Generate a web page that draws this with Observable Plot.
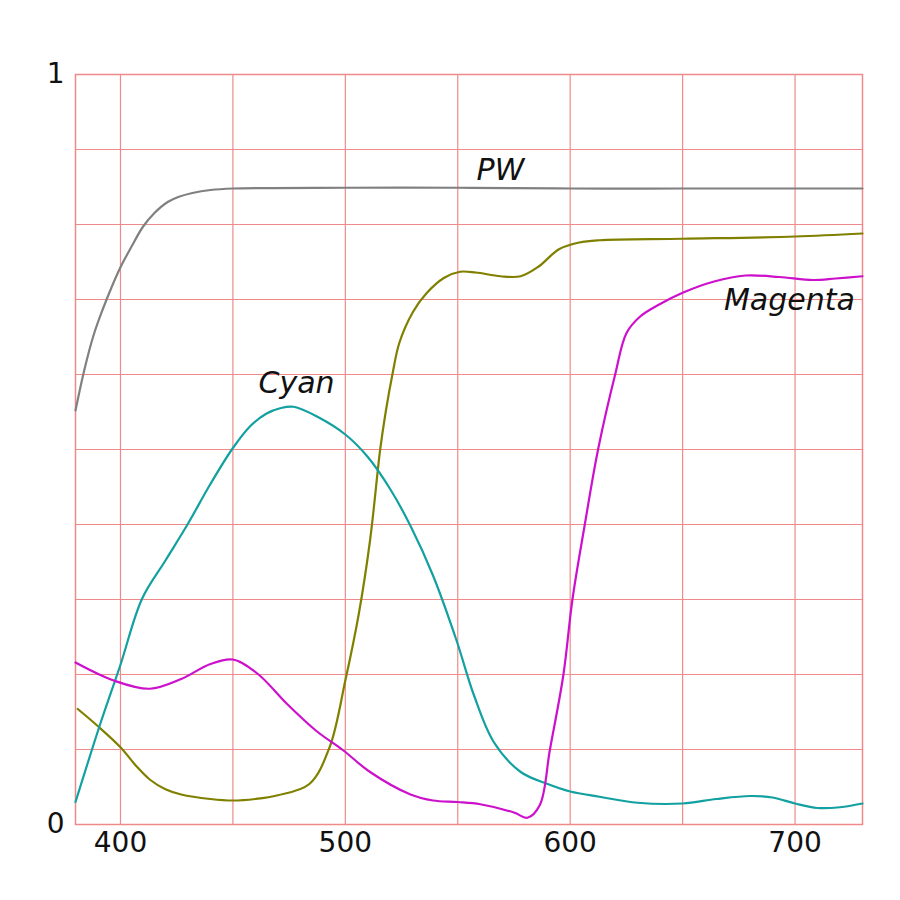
<!DOCTYPE html>
<html>
<head>
<meta charset="utf-8">
<script src="https://cdn.jsdelivr.net/npm/d3@7"></script>
<script src="https://cdn.jsdelivr.net/npm/@observablehq/plot@0.6"></script>
<style>
  html, body { margin: 0; padding: 0; background: #ffffff; }
  #chart { width: 900px; height: 900px; }
</style>
</head>
<body>
<div id="chart"></div>
<script>
// Wavelength (nm) and relative values for each curve
const pwX = [380,384,388,392,396,400,405,410,415,421,426,432,440,450,500,550,600,650,700,730];
const pwY = [0.552,0.607,0.652,0.686,0.716,0.743,0.771,0.797,0.815,0.830,0.837,0.842,0.846,0.848,0.849,0.849,0.848,0.848,0.848,0.848];

const oliveX = [381,390,400,407,413,420,427,440,450,460,470,484,493,500,506,511,515.5,518,521,524,530,536,544,551,558,569,578,586,595,604,613,650,700,730];
const oliveY = [0.154,0.131,0.103,0.078,0.060,0.047,0.040,0.034,0.032,0.034,0.039,0.054,0.103,0.192,0.281,0.379,0.500,0.551,0.601,0.642,0.683,0.708,0.729,0.737,0.736,0.731,0.731,0.744,0.767,0.776,0.779,0.781,0.784,0.788];

const cyanX = [380,391,400,409.6,420,430,440,450,458,465,471,477,488,500,510,520,529,539,549.5,557,566,578,590,600,613,630,650,665,680,690,700,710,720,730];
const cyanY = [0.030,0.134,0.213,0.301,0.352,0.401,0.454,0.502,0.532,0.548,0.555,0.557,0.543,0.520,0.490,0.447,0.398,0.332,0.245,0.174,0.110,0.070,0.054,0.044,0.037,0.029,0.028,0.034,0.038,0.036,0.028,0.022,0.023,0.028];

const magentaX = [380,397,413,427,440,450,461,474,487,499,511,529,539,550,560,575,581,586.5,591,597,601,606.5,612.4,620,625,631,640,650,664,678,693,708,718,730];
const magentaY = [0.216,0.192,0.181,0.194,0.214,0.220,0.201,0.161,0.125,0.099,0.070,0.040,0.032,0.030,0.027,0.016,0.009,0.026,0.100,0.200,0.300,0.400,0.500,0.600,0.655,0.677,0.694,0.709,0.724,0.732,0.730,0.726,0.728,0.731];

// Curve labels
const labelText = ["PW", "Cyan", "Magenta"];
const labelX = [569, 478.3, 697.5];
const labelY = [0.872, 0.588, 0.699];

// Axis ticks and grid
const xTicks = [400, 500, 600, 700];
const yTicks = [0, 1];
const xGrid = [400, 450, 500, 550, 600, 650, 700];
const yGrid = [0.1, 0.2, 0.3, 0.4, 0.5, 0.6, 0.7, 0.8, 0.9];

const toRows = (xs, ys) => xs.map((x, i) => ({x, y: ys[i]}));
const labels = labelText.map((t, i) => ({t, x: labelX[i], y: labelY[i]}));

const gridColor = "#f08a8a";
const curve = "catmull-rom";

const chart = Plot.plot({
  width: 900,
  height: 900,
  marginLeft: 75,
  marginRight: 38,
  marginTop: 74,
  marginBottom: 76,
  style: {fontFamily: "DejaVu Sans", background: "transparent", color: "#111"},
  x: {domain: [380, 730]},
  y: {domain: [0, 1]},
  marks: [
    Plot.ruleX(xGrid, {stroke: gridColor, strokeWidth: 1.2}),
    Plot.ruleY(yGrid, {stroke: gridColor, strokeWidth: 1.2}),
    Plot.frame({stroke: gridColor, strokeWidth: 1.5}),
    Plot.line(toRows(pwX, pwY), {x: "x", y: "y", stroke: "#808080", strokeWidth: 2.2, curve}),
    Plot.line(toRows(oliveX, oliveY), {x: "x", y: "y", stroke: "#808000", strokeWidth: 2.2, curve}),
    Plot.line(toRows(cyanX, cyanY), {x: "x", y: "y", stroke: "#12a0a0", strokeWidth: 2.2, curve}),
    Plot.line(toRows(magentaX, magentaY), {x: "x", y: "y", stroke: "#cc10cc", strokeWidth: 2.2, curve}),
    Plot.text(labels, {x: "x", y: "y", text: "t", fontSize: 30, fontStyle: "italic", fill: "#111"}),
    Plot.axisX(xTicks, {tickSize: 0, tickPadding: 8, fontSize: 28, label: null, fill: "#111", tickFormat: d => String(d)}),
    Plot.axisY(yTicks, {tickSize: 0, tickPadding: 11, fontSize: 28, label: null, fill: "#111", tickFormat: d => String(d)})
  ]
});

document.getElementById("chart").appendChild(chart);
</script>
</body>
</html>
